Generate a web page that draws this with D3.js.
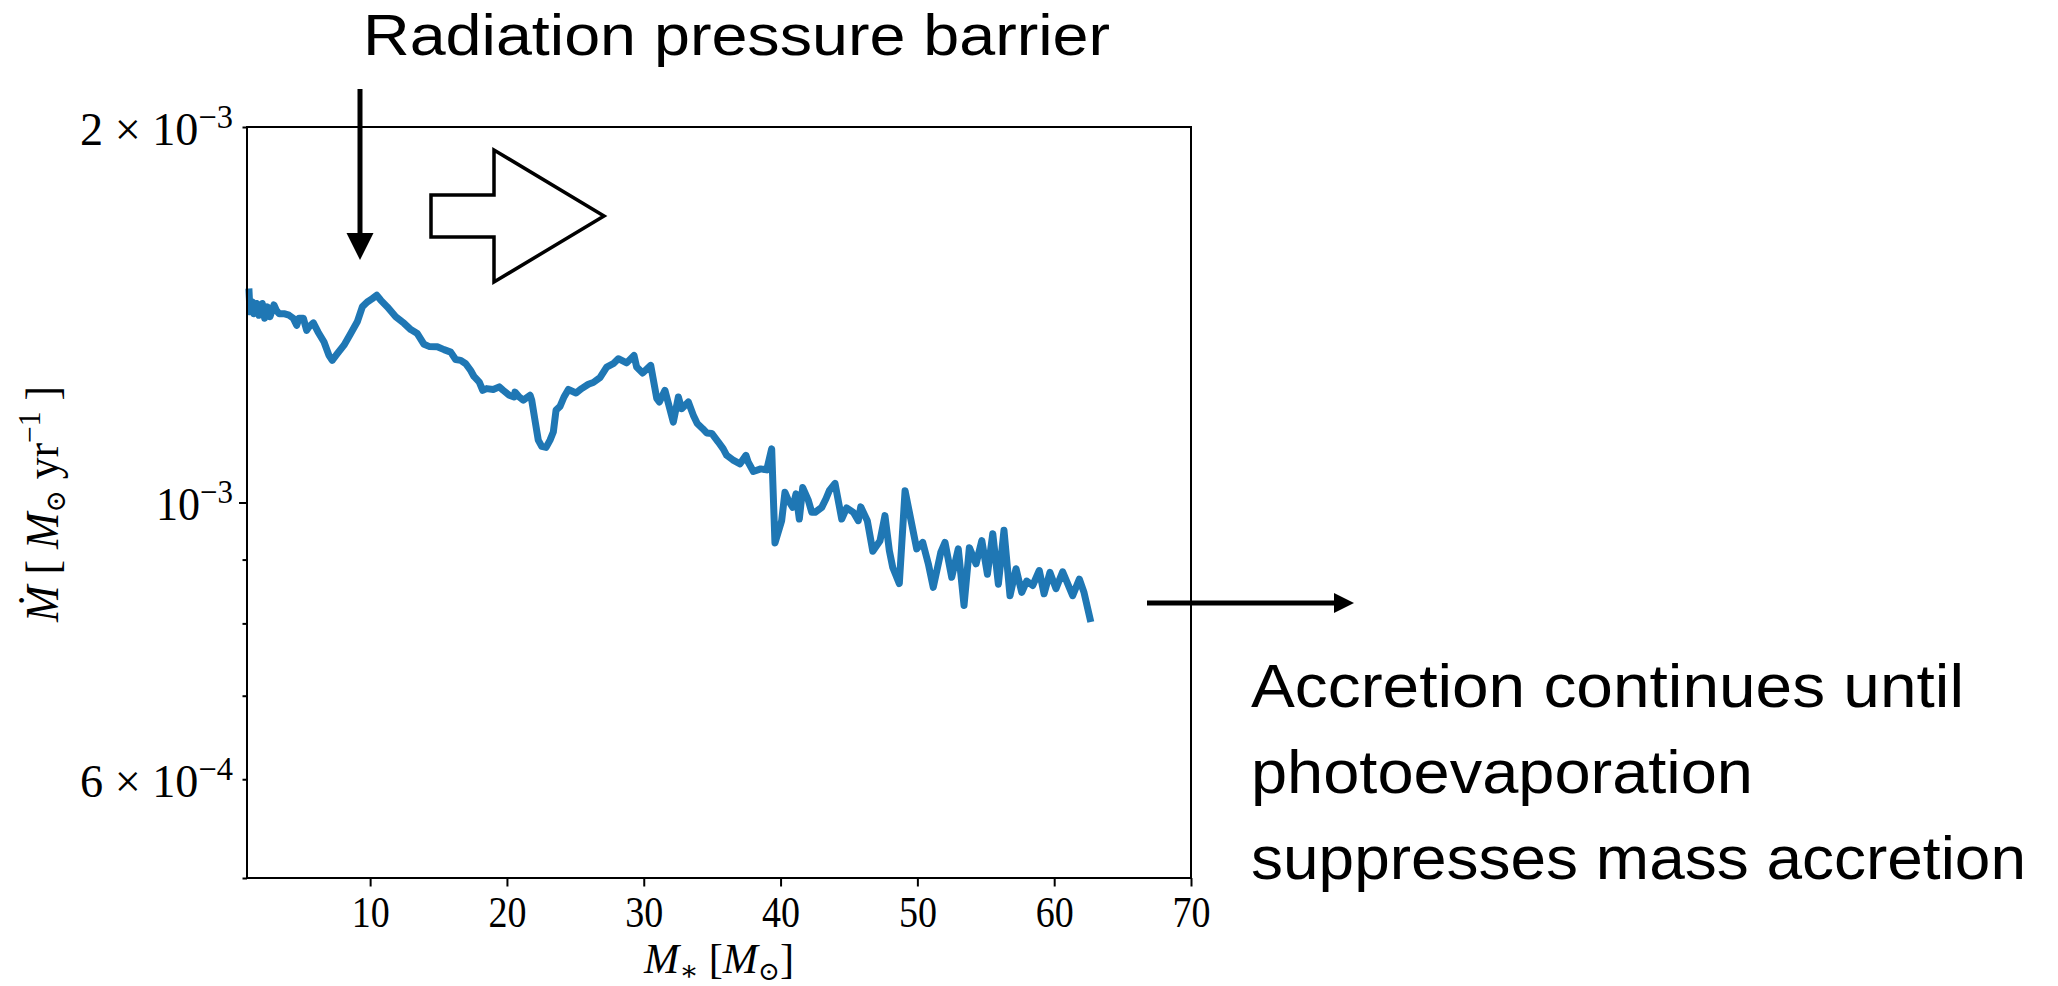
<!DOCTYPE html>
<html>
<head>
<meta charset="utf-8">
<script src="https://cdn.jsdelivr.net/npm/d3@7"></script>
<style>
  body { margin: 0; background: #fff; }
  svg { display: block; }
</style>
</head>
<body>
<svg id="chart" width="2058" height="986"></svg>
<script>
// Stellar mass growth: accretion rate versus stellar mass
const stellarMass = [
  1.15, 1.22, 1.39, 1.51, 1.71, 1.88, 2.12, 2.29, 2.48, 2.68, 2.97, 3.14, 3.34, 3.70, 4.07, 4.38, 4.63, 4.80,
  5.12, 5.36, 5.53, 5.85, 6.19, 6.63, 6.99, 7.23, 7.60, 8.09, 8.58, 9.06, 9.43, 9.79, 10.16, 10.48, 10.77,
  11.25, 11.87, 12.48, 12.97, 13.45, 13.94, 14.30, 14.91, 15.40, 15.89, 16.25, 16.62, 16.99, 17.35, 17.59,
  17.98, 18.23, 18.52, 19.00, 19.44, 19.73, 20.17, 20.52, 20.59, 20.90, 21.20, 21.69, 21.81, 22.05, 22.29,
  22.54, 22.86, 23.15, 23.39, 23.59, 23.88, 24.17, 24.49, 25.05, 25.46, 25.95, 26.31, 26.80, 27.29, 27.77,
  28.14, 28.75, 29.29, 29.48, 29.92, 30.51, 30.95, 31.14, 31.55, 32.16, 32.53, 32.77, 33.26, 33.62, 33.91,
  34.31, 34.60, 34.97, 35.45, 35.81, 36.06, 36.50, 37.04, 37.47, 37.64, 38.01, 38.55, 38.99, 39.35, 39.59,
  40.08, 40.32, 40.57, 40.89, 41.13, 41.37, 41.62, 42.03, 42.28, 42.52, 43.01, 43.32, 43.56, 43.98, 44.47,
  44.83, 45.32, 45.68, 45.86, 46.34, 46.74, 47.27, 47.63, 47.95, 48.20, 48.68, 49.10, 49.95, 50.39, 50.80,
  51.16, 51.71, 52.02, 52.51, 52.99, 53.41, 53.80, 54.29, 54.71, 55.12, 55.51, 55.92, 56.33, 56.77, 57.21,
  57.63, 57.99, 58.43, 58.91, 59.26, 59.69, 60.13, 60.62, 61.35, 61.84, 62.18, 62.62, 63.06
];
const accretionRate = [
  1.475e-3, 1.422e-3, 1.448e-3, 1.417e-3, 1.444e-3, 1.413e-3, 1.444e-3, 1.405e-3, 1.435e-3, 1.409e-3,
  1.440e-3, 1.426e-3, 1.417e-3, 1.417e-3, 1.413e-3, 1.405e-3, 1.387e-3, 1.405e-3, 1.405e-3, 1.374e-3,
  1.383e-3, 1.393e-3, 1.370e-3, 1.345e-3, 1.312e-3, 1.300e-3, 1.316e-3, 1.337e-3, 1.366e-3, 1.396e-3,
  1.435e-3, 1.448e-3, 1.457e-3, 1.466e-3, 1.453e-3, 1.435e-3, 1.409e-3, 1.392e-3, 1.376e-3, 1.366e-3,
  1.339e-3, 1.334e-3, 1.333e-3, 1.326e-3, 1.320e-3, 1.302e-3, 1.300e-3, 1.292e-3, 1.276e-3, 1.262e-3,
  1.249e-3, 1.230e-3, 1.234e-3, 1.232e-3, 1.238e-3, 1.230e-3, 1.219e-3, 1.215e-3, 1.226e-3, 1.215e-3,
  1.208e-3, 1.219e-3, 1.208e-3, 1.164e-3, 1.122e-3, 1.109e-3, 1.107e-3, 1.122e-3, 1.139e-3, 1.186e-3,
  1.194e-3, 1.215e-3, 1.232e-3, 1.224e-3, 1.234e-3, 1.244e-3, 1.248e-3, 1.259e-3, 1.284e-3, 1.292e-3,
  1.304e-3, 1.294e-3, 1.312e-3, 1.284e-3, 1.270e-3, 1.288e-3, 1.212e-3, 1.204e-3, 1.230e-3, 1.160e-3,
  1.215e-3, 1.189e-3, 1.204e-3, 1.175e-3, 1.157e-3,
  1.146e-3, 1.137e-3, 1.136e-3, 1.118e-3, 1.104e-3, 1.091e-3, 1.082e-3, 1.074e-3, 1.091e-3, 1.077e-3,
  1.059e-3, 1.064e-3, 1.062e-3, 1.104e-3,
  0.928e-3, 0.967e-3, 1.019e-3, 1.004e-3, 0.991e-3, 1.016e-3, 0.970e-3, 1.028e-3, 1.004e-3, 0.982e-3,
  0.982e-3, 0.991e-3, 1.007e-3, 1.022e-3, 1.036e-3, 0.970e-3, 0.990e-3, 0.982e-3, 0.967e-3, 0.992e-3,
  0.967e-3, 0.914e-3, 0.932e-3, 0.976e-3, 0.915e-3, 0.887e-3, 0.861e-3, 1.022e-3, 0.918e-3, 0.929e-3,
  0.893e-3, 0.855e-3, 0.912e-3, 0.929e-3, 0.871e-3, 0.918e-3, 0.827e-3, 0.920e-3, 0.893e-3, 0.932e-3,
  0.876e-3, 0.944e-3, 0.860e-3, 0.950e-3, 0.842e-3, 0.885e-3, 0.847e-3, 0.865e-3, 0.858e-3, 0.882e-3,
  0.845e-3, 0.879e-3, 0.853e-3, 0.880e-3, 0.842e-3, 0.868e-3, 0.847e-3, 0.807e-3
];

const massTicks = [10, 20, 30, 40, 50, 60, 70];
const rateMajorTicks = [1e-3];
const rateMinorTicks = [5e-4, 6e-4, 7e-4, 8e-4, 9e-4, 2e-3];
const rateLabelValues = [6e-4, 1e-3, 2e-3];
const rateLabelMantissa = ["6", "", "2"];
const rateLabelExponent = ["\u22124", "\u22123", "\u22123"];

const titleText = "Radiation pressure barrier";
const noteLines = ["Accretion continues until", "photoevaporation", "suppresses mass accretion"];

const serif = "'Liberation Serif', 'DejaVu Serif', serif";
const gothic = "'Liberation Sans', Arial, sans-serif";

const L = 247, R = 1191, T = 127, B = 878;
const svg = d3.select("#chart");

const x = d3.scaleLinear().domain([1, 70]).range([L, R]);
const y = d3.scaleLog().domain([5e-4, 2e-3]).range([B, T]);

// Accretion-rate curve
const series = stellarMass.map((m, i) => [m, accretionRate[i]]);
const line = d3.line().x(d => x(d[0])).y(d => y(d[1]));
svg.append("path")
  .datum(series)
  .attr("d", line)
  .attr("fill", "none")
  .attr("stroke", "#1f77b4")
  .attr("stroke-width", 7)
  .attr("stroke-linejoin", "round")
  .attr("stroke-linecap", "square");

// Frame
svg.append("rect")
  .attr("x", L).attr("y", T).attr("width", R - L).attr("height", B - T)
  .attr("fill", "none").attr("stroke", "#000").attr("stroke-width", 2);

// Bottom axis
const xAxis = d3.axisBottom(x).tickValues(massTicks).tickSize(8.5).tickFormat(d3.format("d"));
const gx = svg.append("g").attr("transform", `translate(0,${B})`).call(xAxis);
gx.select(".domain").remove();
gx.selectAll(".tick line").attr("stroke", "#000").attr("stroke-width", 2);
gx.selectAll(".tick text")
  .attr("y", 49).attr("dy", null)
  .attr("font-family", serif).attr("font-size", 45).attr("fill", "#000")
  .attr("textLength", 38).attr("lengthAdjust", "spacingAndGlyphs");

// Left axis: major and minor ticks
const gyMajor = svg.append("g").attr("transform", `translate(${L},0)`)
  .call(d3.axisLeft(y).tickValues(rateMajorTicks).tickSize(8).tickFormat(""));
const gyMinor = svg.append("g").attr("transform", `translate(${L},0)`)
  .call(d3.axisLeft(y).tickValues(rateMinorTicks).tickSize(4.5).tickFormat(""));
[gyMajor, gyMinor].forEach(g => {
  g.select(".domain").remove();
  g.selectAll(".tick line").attr("stroke", "#000").attr("stroke-width", 2);
});

// Left axis labels in scientific notation
const gyLabels = svg.append("g").attr("transform", `translate(${L},0)`)
  .call(d3.axisLeft(y).tickValues(rateLabelValues).tickSize(0).tickFormat(""));
gyLabels.select(".domain").remove();
gyLabels.selectAll(".tick").each(function (d, i) {
  const m = rateLabelMantissa[i];
  const t = d3.select(this).append("text")
    .attr("x", -14).attr("y", 17)
    .attr("text-anchor", "end")
    .attr("font-family", serif).attr("font-size", 47).attr("fill", "#000");
  t.append("tspan").text(m ? m + " \u00d7 10" : "10");
  t.append("tspan").attr("dy", -17).attr("font-size", 33).text(rateLabelExponent[i]);
  t.attr("textLength", m ? 153 : 77).attr("lengthAdjust", "spacingAndGlyphs");
});

// Axis titles
const xl = svg.append("text")
  .attr("x", (L + R) / 2).attr("y", 973)
  .attr("text-anchor", "middle")
  .attr("font-family", serif).attr("font-size", 42).attr("fill", "#000");
xl.append("tspan").attr("font-style", "italic").text("M");
xl.append("tspan").attr("dy", 7).attr("font-size", 28).text("\u2217");
xl.append("tspan").attr("dy", -7).text(" [");
xl.append("tspan").attr("font-style", "italic").text("M");
xl.append("tspan").attr("dy", 7).attr("font-size", 26).text("\u2299");
xl.append("tspan").attr("dy", -7).text("]");
xl.attr("textLength", 150).attr("lengthAdjust", "spacingAndGlyphs");

const yl = svg.append("text")
  .attr("transform", "translate(58,504) rotate(-90)")
  .attr("text-anchor", "middle")
  .attr("font-family", serif).attr("font-size", 46).attr("fill", "#000");
yl.append("tspan").attr("font-style", "italic").text("\u1e40");
yl.append("tspan").text(" [ ");
yl.append("tspan").attr("font-style", "italic").text("M");
yl.append("tspan").attr("dy", 7).attr("font-size", 28).text("\u2299");
yl.append("tspan").attr("dy", -7).text(" yr");
yl.append("tspan").attr("dy", -18).attr("font-size", 31).text("\u22121");
yl.append("tspan").attr("dy", 18).text(" ]");
yl.attr("textLength", 236).attr("lengthAdjust", "spacingAndGlyphs");

// Annotations
svg.append("text")
  .attr("x", 363).attr("y", 55)
  .attr("font-family", gothic).attr("font-size", 58).attr("fill", "#000")
  .attr("textLength", 747).attr("lengthAdjust", "spacingAndGlyphs")
  .text(titleText);

const noteLengths = [713, 502, 775];
const noteBaselines = [707, 793, 879];
noteLines.forEach((s, i) => {
  svg.append("text")
    .attr("x", 1251).attr("y", noteBaselines[i])
    .attr("font-family", gothic).attr("font-size", 62).attr("fill", "#000")
    .attr("textLength", noteLengths[i]).attr("lengthAdjust", "spacingAndGlyphs")
    .text(s);
});

// Downward arrow marking the barrier
svg.append("line")
  .attr("x1", 360).attr("y1", 89).attr("x2", 360).attr("y2", 236)
  .attr("stroke", "#000").attr("stroke-width", 5);
svg.append("polygon")
  .attr("points", "346.5,233 373.5,233 360,260")
  .attr("fill", "#000");

// Outlined block arrow pointing to higher mass
svg.append("polygon")
  .attr("points", "431,195 494,195 494,150 604,216 494,282 494,237 431,237")
  .attr("fill", "#fff").attr("stroke", "#000").attr("stroke-width", 3.5)
  .attr("stroke-linejoin", "miter");

// Arrow pointing to the final-stage note
svg.append("line")
  .attr("x1", 1147).attr("y1", 603).attr("x2", 1336).attr("y2", 603)
  .attr("stroke", "#000").attr("stroke-width", 5);
svg.append("polygon")
  .attr("points", "1334,593 1334,613 1354,603")
  .attr("fill", "#000");
</script>
</body>
</html>
